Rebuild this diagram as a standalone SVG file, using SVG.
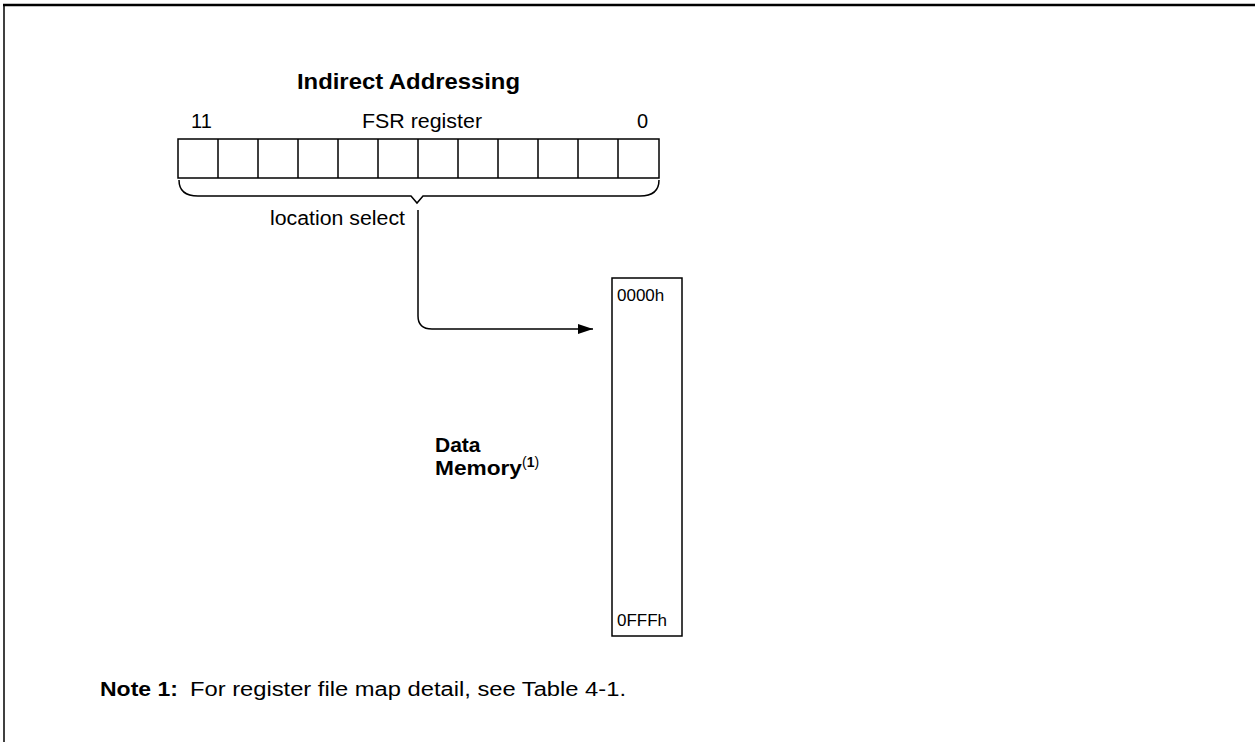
<svg xmlns="http://www.w3.org/2000/svg" width="1255" height="742" viewBox="0 0 1255 742">
<defs>
<style>
text{font-family:"Liberation Sans",Arial,sans-serif;fill:#000}
.t{font-size:20px}
.b{font-weight:bold}
.ln{fill:none;stroke:#000;stroke-width:1.5}
.cell{fill:#fff;stroke:#000;stroke-width:1.5}
</style>
<marker id="ah" markerWidth="16" markerHeight="12" refX="15" refY="6" orient="auto" markerUnits="userSpaceOnUse">
<path d="M0,1 L15,6 L0,11 Z" fill="#000"/>
</marker>
</defs>
<rect width="1255" height="742" fill="#fff"/>
<g id="frame">
<line x1="3" y1="5" x2="1255" y2="5" stroke="#000" stroke-width="2.5"/>
<line x1="4" y1="5" x2="4" y2="742" stroke="#000" stroke-width="1.5"/>
</g>
<g id="title"><text class="b" font-size="22" x="297" y="89" textLength="223" lengthAdjust="spacingAndGlyphs">Indirect Addressing</text></g>
<g id="fsr">
<text class="t" font-size="19" x="191" y="128">11</text>
<text class="t" x="362" y="128" textLength="120" lengthAdjust="spacingAndGlyphs">FSR register</text>
<text class="t" font-size="19" x="637" y="128">0</text>
<rect class="cell" x="178" y="139" width="481" height="39"/>
<path class="ln" d="M218,139V178M258,139V178M298,139V178M338,139V178M378,139V178M418,139V178M458,139V178M498,139V178M538,139V178M578,139V178M618,139V178"/>
<path class="ln" d="M179,180 Q179,196 198,196 H411 L417,203 L423,196 H640 Q659,196 659,180"/>
<text class="t" x="270" y="225" textLength="135" lengthAdjust="spacingAndGlyphs">location select</text>
</g>
<g id="connectors">
<path class="ln" d="M418,210 V316 Q418,329 432,329 H593" stroke-width="2" marker-end="url(#ah)"/>
</g>
<g id="memory">
<rect x="612" y="278" width="70" height="358" fill="#fff" stroke="#000" stroke-width="1.5"/>
<text font-size="17" x="617" y="301">0000h</text>
<text font-size="17" x="617" y="626">0FFFh</text>
</g>
<g id="label">
<text class="b" font-size="21" x="435" y="452">Data</text>
<text class="b" font-size="21" x="435" y="475"><tspan textLength="87" lengthAdjust="spacingAndGlyphs">Memory</tspan><tspan font-size="14" font-weight="normal" dy="-8">(</tspan><tspan font-size="14">1</tspan><tspan font-size="14" font-weight="normal">)</tspan></text>
</g>
<g id="note">
<text class="b" font-size="20" x="100" y="696" textLength="78" lengthAdjust="spacingAndGlyphs">Note 1:</text>
<text font-size="20" x="190" y="696" textLength="436" lengthAdjust="spacingAndGlyphs">For register file map detail, see Table 4-1.</text>
</g>
</svg>
